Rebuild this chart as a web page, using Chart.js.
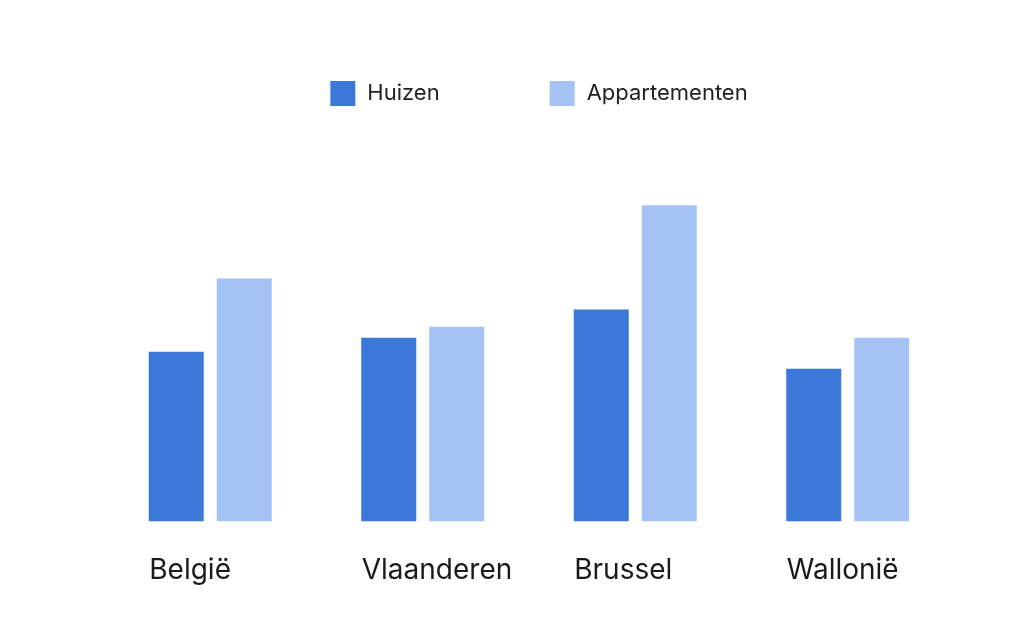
<!DOCTYPE html>
<html>
<head>
<meta charset="utf-8">
<script src="https://cdn.jsdelivr.net/npm/chart.js@4.4.0/dist/chart.umd.min.js"></script>
<style>
html,body{margin:0;padding:0;background:#fff;}
#wrap{width:1024px;height:625px;position:relative;}
</style>
</head>
<body>
<div id="wrap"><canvas id="c" width="1024" height="625"></canvas></div>
<script>
const categories = ["België", "Vlaanderen", "Brussel", "Wallonië"];
const seriesNames = ["Huizen", "Appartementen"];
const huizen = [169, 183, 211, 152];
const appartementen = [242, 194, 315, 183];
const colors = ["#3c78d8", "#a4c2f4"];

const customLegend = {
  id: 'customLegend',
  afterDraw(chart) {
    const ctx = chart.ctx;
    ctx.save();
    ctx.font = '22px Inter';
    ctx.textBaseline = 'middle';
    ctx.textAlign = 'left';
    const box = 25, gapText = 12, gapItem = 110;
    const items = chart.data.datasets.map(d => ({label: d.label, color: d.backgroundColor, w: ctx.measureText(d.label).width}));
    let total = 0;
    items.forEach((it, i) => { total += box + gapText + it.w + (i < items.length - 1 ? gapItem : 0); });
    let x = chart.width / 2 + 27 - total / 2;
    const yc = 93.5;
    items.forEach(it => {
      ctx.fillStyle = it.color;
      ctx.fillRect(x, yc - box / 2, box, box);
      ctx.fillStyle = '#222222';
      ctx.fillText(it.label, x + box + gapText, yc);
      x += box + gapText + it.w + gapItem;
    });
    ctx.restore();
  }
};

new Chart(document.getElementById('c'), {
  type: 'bar',
  data: {
    labels: categories,
    datasets: [
      {label: seriesNames[0], data: huizen, backgroundColor: colors[0]},
      {label: seriesNames[1], data: appartementen, backgroundColor: colors[1]}
    ]
  },
  options: {
    responsive: false,
    animation: false,
    layout: {padding: {top: 150, left: 104, right: 70, bottom: 14}},
    plugins: {legend: {display: false}, tooltip: {enabled: false}},
    datasets: {bar: {categoryPercentage: 0.64, barPercentage: 0.809}},
    scales: {
      x: {
        grid: {display: false},
        border: {display: false},
        ticks: {
          color: '#1a1a1a',
          font: {family: 'Inter', size: 28},
          align: 'start',
          labelOffset: -61,
          padding: 24,
          maxRotation: 0
        }
      },
      y: {display: false, min: 0, max: 370}
    }
  },
  plugins: [customLegend]
});
</script>
</body>
</html>
